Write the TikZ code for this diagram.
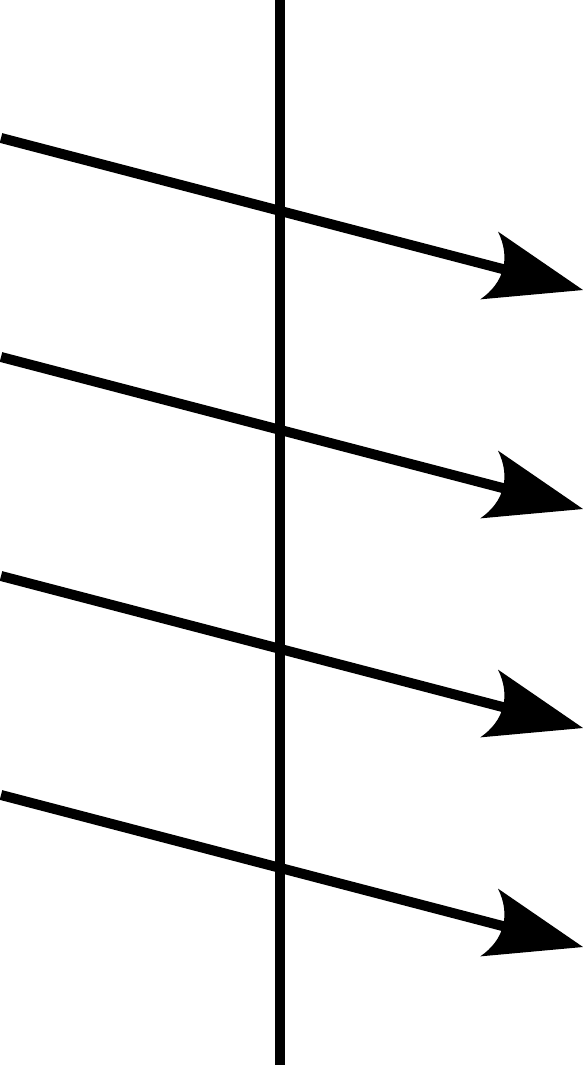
\documentclass[tikz,border=0pt]{standalone}
\usetikzlibrary{arrows}

% large stealth head with a curved back
\pgfarrowsdeclare{bigstealth}{bigstealth}
{\pgfarrowsleftextend{-57pt}\pgfarrowsrightextend{40pt}}
{
  \pgfsetdash{}{0pt}
  \pgfpathmoveto{\pgfpoint{40pt}{0pt}}
  \pgfpathlineto{\pgfpoint{-57pt}{35pt}}
  \pgfpathcurveto{\pgfpoint{-38pt}{13pt}}{\pgfpoint{-38pt}{-13pt}}{\pgfpoint{-57pt}{-35pt}}
  \pgfpathclose
  \pgfusepathqfill
}

\begin{document}
\begin{tikzpicture}[x=1pt, y=-1pt, line width=10pt]
    \useasboundingbox (0,0) rectangle (583,1065);

    \coordinate (top) at (280,0);
    \coordinate (bottom) at (280,1065);

    \coordinate (a1) at (1,138);
    \coordinate (b1) at (583,290);
    \coordinate (a2) at (1,357);
    \coordinate (b2) at (583,509);
    \coordinate (a3) at (1,576);
    \coordinate (b3) at (583,728);
    \coordinate (a4) at (1,795);
    \coordinate (b4) at (583,947);

    \draw (top) -- (bottom);

    \draw [-bigstealth] (a1) -- (b1);
    \draw [-bigstealth] (a2) -- (b2);
    \draw [-bigstealth] (a3) -- (b3);
    \draw [-bigstealth] (a4) -- (b4);
  \end{tikzpicture}
\end{document}
